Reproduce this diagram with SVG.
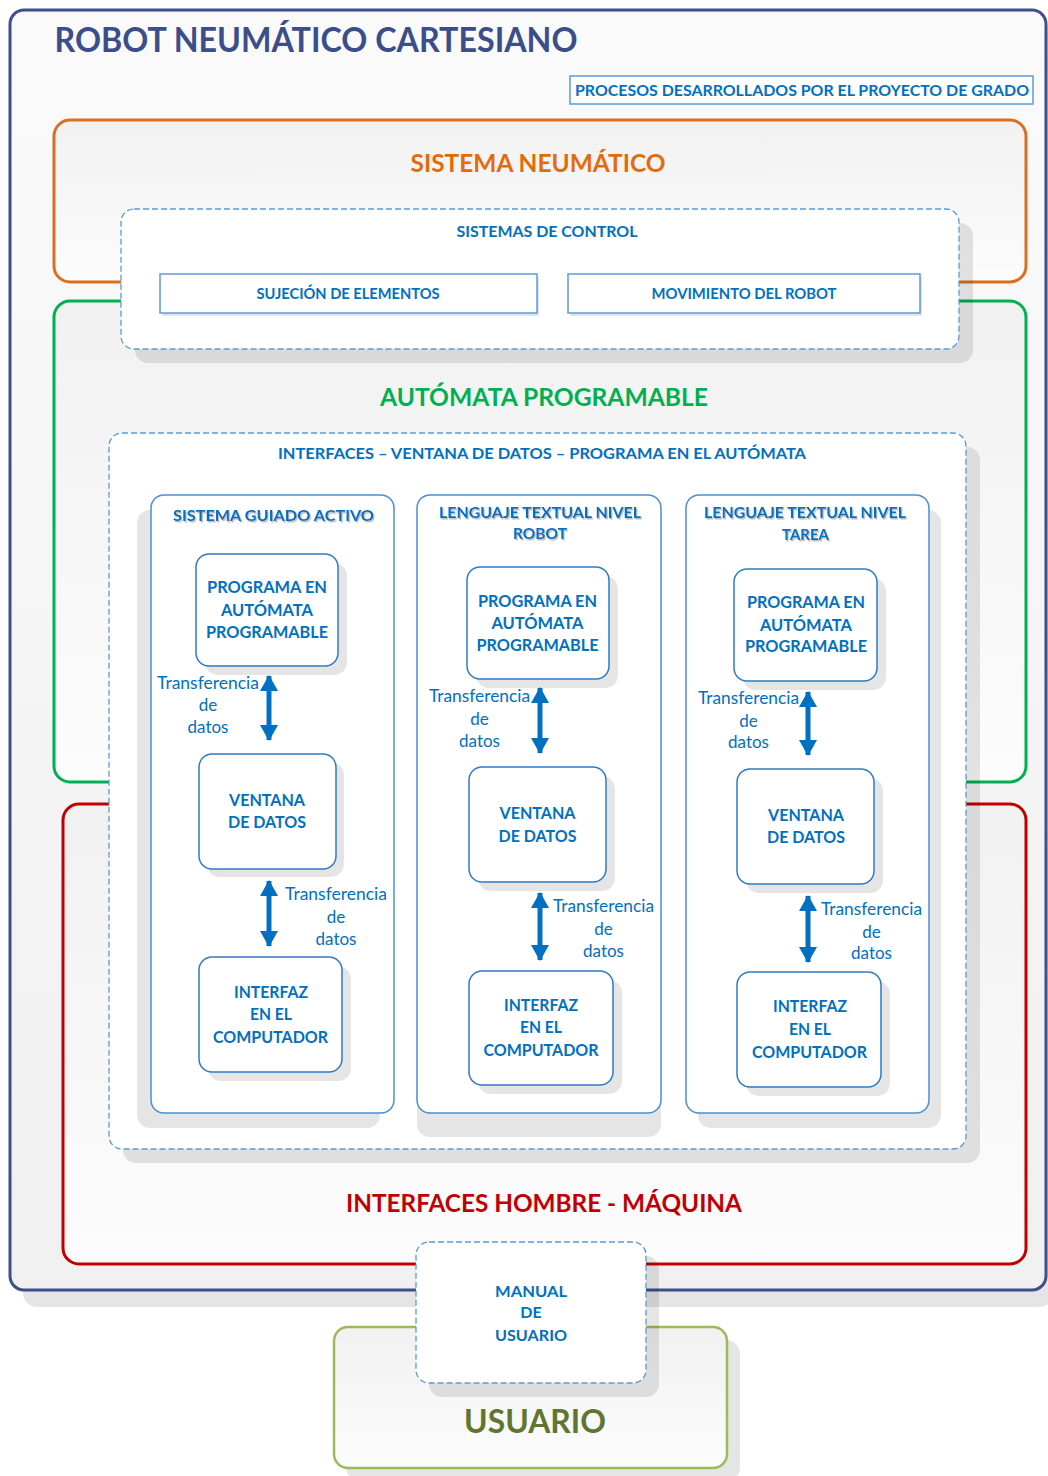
<svg xmlns="http://www.w3.org/2000/svg" width="1048" height="1476" viewBox="0 0 1048 1476">
<defs>
  <linearGradient id="gFrame" x1="0" y1="0" x2="0" y2="1">
    <stop offset="0" stop-color="#f1f1f1"/>
    <stop offset="1" stop-color="#fcfcfc"/>
  </linearGradient>
  <linearGradient id="gOuter" x1="0" y1="0" x2="0" y2="1">
    <stop offset="0" stop-color="#fafafa"/>
    <stop offset="1" stop-color="#f0f0f0"/>
  </linearGradient>
  <filter id="tsh" x="-5%" y="-20%" width="110%" height="150%">
    <feDropShadow dx="1.2" dy="1.5" stdDeviation="0.7" flood-color="#8c8c8c" flood-opacity="0.6"/>
  </filter>
  <marker id="ah" viewBox="0 0 16 18" refX="15" refY="9" markerWidth="16" markerHeight="18" markerUnits="userSpaceOnUse" orient="auto-start-reverse">
    <path d="M0,0 L16,9 L0,18 Z" fill="#0070C0"/>
  </marker>
  <style>
    text { font-family: "Lato", "Liberation Sans", sans-serif; }
    .b { font-weight: bold; fill: #0070C0; font-size: 17px; text-anchor: middle; }
    .h { font-weight: bold; fill: #0070C0; font-size: 16px; text-anchor: middle; }
    .r { fill: #0070C0; font-size: 17px; text-anchor: middle; }
    .shd { fill: #000; fill-opacity: 0.1; }
    .dash { fill: #ffffff; stroke: #5B9BD5; stroke-width: 1.3; stroke-dasharray: 6 3; }
    .col { fill: #ffffff; stroke: #4A8FD0; stroke-width: 1.5; }
    .node { fill: #ffffff; stroke: #2E7BC6; stroke-width: 1.5; }
    .lbox { fill: #ffffff; stroke: #5B9BD5; stroke-width: 1.5; }
    .arr { stroke: #0070C0; stroke-width: 5; fill: none; marker-start: url(#ah); marker-end: url(#ah); }
    .big { font-weight: bold; font-size: 24px; text-anchor: middle; }
  </style>
</defs>

<!-- outer frame -->
<g id="robot-frame">
  <rect x="23" y="24" width="1030" height="1283" rx="14" class="shd"/>
  <rect x="10" y="10" width="1036" height="1280" rx="14" fill="url(#gOuter)" stroke="#3F4F8C" stroke-width="3"/>
  <text x="316" y="52" font-size="34" font-weight="bold" fill="#3B4E8A" text-anchor="middle" textLength="523" lengthAdjust="spacingAndGlyphs">ROBOT NEUMÁTICO CARTESIANO</text>
</g>

<g id="procesos">
  <rect x="570" y="76" width="463" height="28" fill="#ffffff" stroke="#5B9BD5" stroke-width="1.5"/>
  <text x="802" y="96" class="h" textLength="454" lengthAdjust="spacingAndGlyphs">PROCESOS DESARROLLADOS POR EL PROYECTO DE GRADO</text>
</g>

<g id="sistema-neumatico">
  <rect x="54" y="120" width="972" height="162" rx="16" fill="url(#gFrame)" stroke="#D9701E" stroke-width="3"/>
  <text x="538" y="172" class="big" fill="#E36C0A" textLength="255" lengthAdjust="spacingAndGlyphs">SISTEMA NEUMÁTICO</text>
</g>

<g id="automata-programable">
  <rect x="54" y="301" width="972" height="481" rx="16" fill="url(#gFrame)" stroke="#00B050" stroke-width="3"/>
  <text x="544" y="406" class="big" fill="#00B050" textLength="328" lengthAdjust="spacingAndGlyphs">AUTÓMATA PROGRAMABLE</text>
</g>

<g id="interfaces-hombre-maquina">
  <rect x="63" y="804" width="963" height="460" rx="16" fill="url(#gFrame)" stroke="#C00000" stroke-width="3"/>
  <text x="544" y="1212" class="big" fill="#C00000" textLength="396" lengthAdjust="spacingAndGlyphs">INTERFACES HOMBRE - MÁQUINA</text>
</g>

<g id="sistemas-de-control">
  <rect x="135" y="223" width="838" height="140" rx="13" class="shd"/>
  <rect x="121" y="209" width="838" height="140" rx="13" class="dash"/>
  <text x="547" y="237" class="h" textLength="181" lengthAdjust="spacingAndGlyphs">SISTEMAS DE CONTROL</text>
</g>

<g id="sujecion">
  <rect x="162" y="276" width="377" height="40" class="shd"/>
  <rect x="160" y="274" width="377" height="39" class="lbox"/>
  <text x="348" y="299" class="h" textLength="183" lengthAdjust="spacingAndGlyphs">SUJECIÓN DE ELEMENTOS</text>
</g>

<g id="movimiento">
  <rect x="570" y="276" width="352" height="40" class="shd"/>
  <rect x="568" y="274" width="352" height="39" class="lbox"/>
  <text x="744" y="299" class="h" textLength="185" lengthAdjust="spacingAndGlyphs">MOVIMIENTO DEL ROBOT</text>
</g>

<g id="interfaces-ventana">
  <rect x="123" y="447" width="857" height="716" rx="13" class="shd"/>
  <rect x="109" y="433" width="857" height="716" rx="13" class="dash"/>
  <text x="542" y="459" class="h" textLength="528" lengthAdjust="spacingAndGlyphs">INTERFACES – VENTANA DE DATOS – PROGRAMA EN EL AUTÓMATA</text>
</g>

<!-- column 1 -->
<g id="col-guiado">
  <rect x="137" y="510" width="243" height="618" rx="13" class="shd"/>
  <rect x="151" y="495" width="243" height="618" rx="13" class="col"/>
  <text x="273.5" y="521" class="h" filter="url(#tsh)" textLength="201" lengthAdjust="spacingAndGlyphs">SISTEMA GUIADO ACTIVO</text>
</g>
<g id="c1-programa">
  <rect x="205" y="563" width="142" height="112" rx="13" class="shd"/>
  <rect x="196" y="554" width="142" height="112" rx="13" class="node"/>
  <text x="267" y="593" class="b" textLength="120" lengthAdjust="spacingAndGlyphs">PROGRAMA EN</text>
  <text x="267" y="616" class="b" textLength="92" lengthAdjust="spacingAndGlyphs">AUTÓMATA</text>
  <text x="267" y="638" class="b" textLength="122" lengthAdjust="spacingAndGlyphs">PROGRAMABLE</text>
</g>
<g id="c1-ventana">
  <rect x="207" y="762" width="137" height="115" rx="13" class="shd"/>
  <rect x="199" y="754" width="137" height="115" rx="13" class="node"/>
  <text x="267" y="806" class="b" textLength="76" lengthAdjust="spacingAndGlyphs">VENTANA</text>
  <text x="267" y="828" class="b" textLength="78" lengthAdjust="spacingAndGlyphs">DE DATOS</text>
</g>
<g id="c1-interfaz">
  <rect x="208" y="966" width="143" height="115" rx="13" class="shd"/>
  <rect x="199" y="957" width="143" height="115" rx="13" class="node"/>
  <text x="271" y="998" class="b" textLength="74" lengthAdjust="spacingAndGlyphs">INTERFAZ</text>
  <text x="271" y="1020" class="b" textLength="42" lengthAdjust="spacingAndGlyphs">EN EL</text>
  <text x="270.5" y="1043" class="b" textLength="115" lengthAdjust="spacingAndGlyphs">COMPUTADOR</text>
</g>

<!-- column 2 -->
<g id="col-robot">
  <rect x="417" y="519" width="244" height="618" rx="13" class="shd"/>
  <rect x="417" y="495" width="244" height="618" rx="13" class="col"/>
  <text x="540" y="518" class="h" filter="url(#tsh)" textLength="202" lengthAdjust="spacingAndGlyphs">LENGUAJE TEXTUAL NIVEL</text>
  <text x="540" y="539" class="h" filter="url(#tsh)" textLength="54" lengthAdjust="spacingAndGlyphs">ROBOT</text>
</g>
<g id="c2-programa">
  <rect x="476" y="576" width="142" height="112" rx="13" class="shd"/>
  <rect x="467" y="567" width="142" height="112" rx="13" class="node"/>
  <text x="537.5" y="607" class="b" textLength="119" lengthAdjust="spacingAndGlyphs">PROGRAMA EN</text>
  <text x="537.5" y="629" class="b" textLength="92" lengthAdjust="spacingAndGlyphs">AUTÓMATA</text>
  <text x="537.5" y="651" class="b" textLength="122" lengthAdjust="spacingAndGlyphs">PROGRAMABLE</text>
</g>
<g id="c2-ventana">
  <rect x="478" y="776" width="137" height="115" rx="13" class="shd"/>
  <rect x="469" y="767" width="137" height="115" rx="13" class="node"/>
  <text x="537.5" y="819" class="b" textLength="76" lengthAdjust="spacingAndGlyphs">VENTANA</text>
  <text x="537.5" y="842" class="b" textLength="78" lengthAdjust="spacingAndGlyphs">DE DATOS</text>
</g>
<g id="c2-interfaz">
  <rect x="478" y="980" width="144" height="114" rx="13" class="shd"/>
  <rect x="469" y="971" width="144" height="114" rx="13" class="node"/>
  <text x="541" y="1011" class="b" textLength="74" lengthAdjust="spacingAndGlyphs">INTERFAZ</text>
  <text x="541" y="1033" class="b" textLength="42" lengthAdjust="spacingAndGlyphs">EN EL</text>
  <text x="541" y="1056" class="b" textLength="115" lengthAdjust="spacingAndGlyphs">COMPUTADOR</text>
</g>

<!-- column 3 -->
<g id="col-tarea">
  <rect x="698" y="510" width="243" height="618" rx="13" class="shd"/>
  <rect x="686" y="495" width="243" height="618" rx="13" class="col"/>
  <text x="805" y="518" class="h" filter="url(#tsh)" textLength="202" lengthAdjust="spacingAndGlyphs">LENGUAJE TEXTUAL NIVEL</text>
  <text x="805.5" y="540" class="h" filter="url(#tsh)" textLength="47" lengthAdjust="spacingAndGlyphs">TAREA</text>
</g>
<g id="c3-programa">
  <rect x="743" y="578" width="143" height="112" rx="13" class="shd"/>
  <rect x="734" y="569" width="143" height="112" rx="13" class="node"/>
  <text x="806" y="608" class="b" textLength="118" lengthAdjust="spacingAndGlyphs">PROGRAMA EN</text>
  <text x="806" y="631" class="b" textLength="92" lengthAdjust="spacingAndGlyphs">AUTÓMATA</text>
  <text x="806" y="652" class="b" textLength="122" lengthAdjust="spacingAndGlyphs">PROGRAMABLE</text>
</g>
<g id="c3-ventana">
  <rect x="746" y="778" width="137" height="115" rx="13" class="shd"/>
  <rect x="737" y="769" width="137" height="115" rx="13" class="node"/>
  <text x="806" y="821" class="b" textLength="76" lengthAdjust="spacingAndGlyphs">VENTANA</text>
  <text x="806" y="843" class="b" textLength="78" lengthAdjust="spacingAndGlyphs">DE DATOS</text>
</g>
<g id="c3-interfaz">
  <rect x="746" y="981" width="144" height="115" rx="13" class="shd"/>
  <rect x="737" y="972" width="144" height="115" rx="13" class="node"/>
  <text x="810" y="1012" class="b" textLength="74" lengthAdjust="spacingAndGlyphs">INTERFAZ</text>
  <text x="810" y="1035" class="b" textLength="42" lengthAdjust="spacingAndGlyphs">EN EL</text>
  <text x="809.5" y="1058" class="b" textLength="115" lengthAdjust="spacingAndGlyphs">COMPUTADOR</text>
</g>

<!-- connectors -->
<g id="connectors">
  <line x1="269" y1="676" x2="269" y2="740" class="arr"/>
  <line x1="269" y1="881" x2="269" y2="946" class="arr"/>
  <line x1="540" y1="688" x2="540" y2="753" class="arr"/>
  <line x1="540" y1="893" x2="540" y2="960" class="arr"/>
  <line x1="808" y1="692" x2="808" y2="755" class="arr"/>
  <line x1="808" y1="896" x2="808" y2="962" class="arr"/>
  <text x="208" y="689" class="r" textLength="102" lengthAdjust="spacingAndGlyphs">Transferencia</text>
  <text x="208" y="711" class="r">de</text>
  <text x="208" y="733" class="r">datos</text>
  <text x="336" y="900" class="r" textLength="102" lengthAdjust="spacingAndGlyphs">Transferencia</text>
  <text x="336" y="923" class="r">de</text>
  <text x="336" y="945" class="r">datos</text>
  <text x="479.5" y="702" class="r" textLength="101" lengthAdjust="spacingAndGlyphs">Transferencia</text>
  <text x="479.5" y="725" class="r">de</text>
  <text x="479.5" y="747" class="r">datos</text>
  <text x="603.5" y="912" class="r" textLength="101" lengthAdjust="spacingAndGlyphs">Transferencia</text>
  <text x="603.5" y="935" class="r">de</text>
  <text x="603.5" y="957" class="r">datos</text>
  <text x="748.5" y="704" class="r" textLength="101" lengthAdjust="spacingAndGlyphs">Transferencia</text>
  <text x="748.5" y="727" class="r">de</text>
  <text x="748.5" y="748" class="r">datos</text>
  <text x="871.5" y="915" class="r" textLength="101" lengthAdjust="spacingAndGlyphs">Transferencia</text>
  <text x="871.5" y="938" class="r">de</text>
  <text x="871.5" y="959" class="r">datos</text>
</g>

<g id="usuario">
  <rect x="346" y="1340" width="394" height="141" rx="14" class="shd"/>
  <rect x="334" y="1327" width="393" height="141" rx="14" fill="url(#gFrame)" stroke="#9BBB59" stroke-width="2.5"/>
  <text x="535" y="1433" font-size="32" font-weight="bold" fill="#5F7530" text-anchor="middle" textLength="142" lengthAdjust="spacingAndGlyphs">USUARIO</text>
</g>

<g id="manual-de-usuario">
  <rect x="429" y="1256" width="230" height="141" rx="13" class="shd"/>
  <rect x="416" y="1242" width="230" height="141" rx="13" class="dash"/>
  <text x="531" y="1297" class="h" textLength="72" lengthAdjust="spacingAndGlyphs">MANUAL</text>
  <text x="531" y="1318" class="h">DE</text>
  <text x="531" y="1341" class="h" textLength="72" lengthAdjust="spacingAndGlyphs">USUARIO</text>
</g>
</svg>
